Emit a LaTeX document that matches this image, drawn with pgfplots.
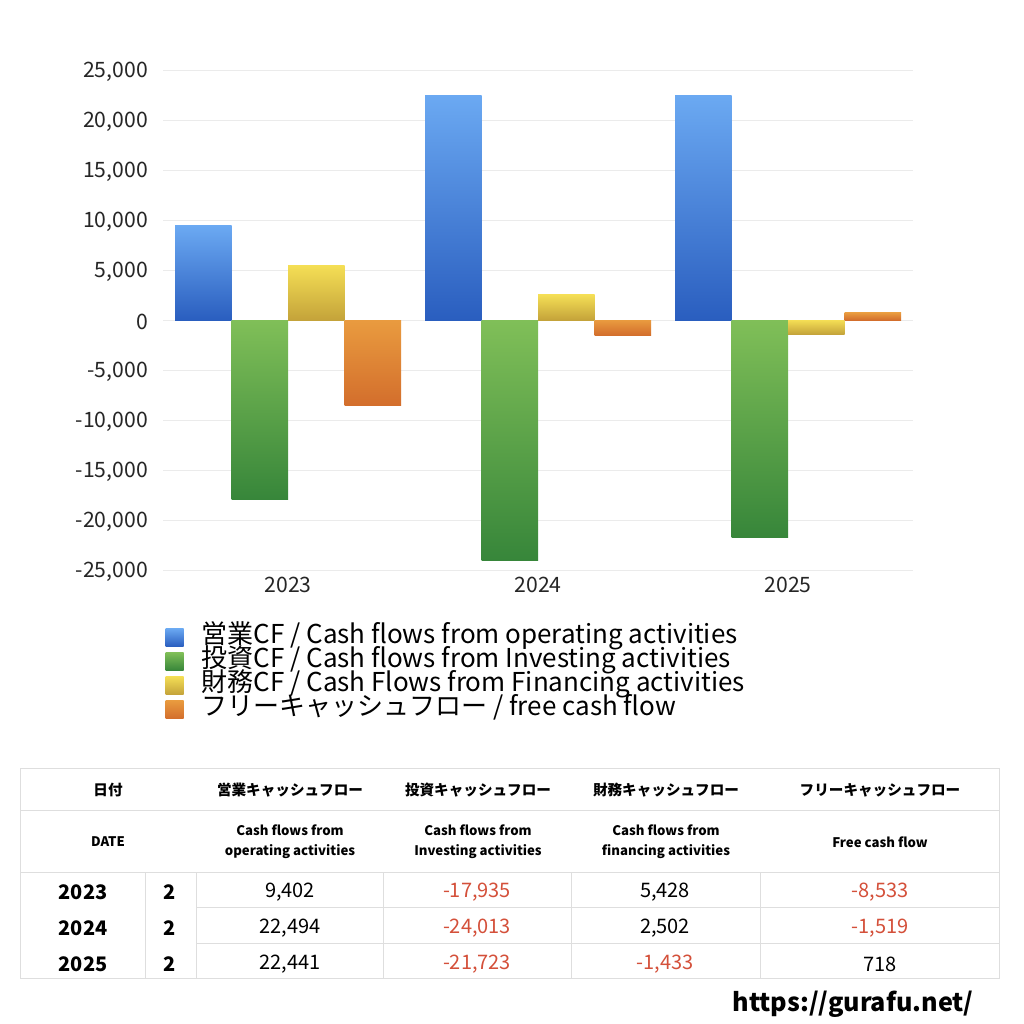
\documentclass[border=0pt]{standalone}
\usepackage{fontspec}
\setmainfont{Noto Sans CJK JP}
\usepackage{pgfplots}
\usepackage{pgfplotstable}
\pgfplotsset{compat=1.18}

\definecolor{gridgray}{HTML}{EBEBEB}
\definecolor{tabgray}{HTML}{DEDEDE}
\definecolor{negred}{HTML}{D4503A}
\definecolor{optop}{HTML}{6BA9F2}\definecolor{opbot}{HTML}{2A5EBF}
\definecolor{invtop}{HTML}{80BF58}\definecolor{invbot}{HTML}{37863A}
\definecolor{fintop}{HTML}{F4DE55}\definecolor{finbot}{HTML}{C4A33A}
\definecolor{fcftop}{HTML}{E99B3F}\definecolor{fcfbot}{HTML}{D36E2C}

% x: 0=2023, 1=2024, 2=2025
\pgfplotstableread{
x op inv fin fcf
0 9402 -17935 5428 -8533
1 22494 -24013 2502 -1519
2 22441 -21723 -1433 718
}\cfdata

\pgfplotsset{
  opbar/.style={draw=none, top color=optop, bottom color=opbot, bar shift=-0.339},
  invbar/.style={draw=none, top color=invtop, bottom color=invbot, bar shift=-0.113},
  finbar/.style={draw=none, top color=fintop, bottom color=finbot, bar shift=0.113},
  fcfbar/.style={draw=none, top color=fcftop, bottom color=fcfbot, bar shift=0.339},
}
% one bar per plot, so that each bar gets its own gradient
\newcommand{\cfbar}[3]{\addplot[#1] table[x=x, y=#2, restrict x to domain=#3:#3] {\cfdata};}

\newcommand{\hdr}{\fontsize{7.3}{9}\selectfont\bfseries}
\newcommand{\sub}{\fontsize{6.6}{10}\selectfont\bfseries}
\newcommand{\val}{\fontsize{10}{12}\selectfont}

\begin{document}
\begin{tikzpicture}[x=0.5pt,y=-0.5pt]
\fill[white] (0,0) rectangle (1024,1024);
\coordinate (axsw) at (163,570);
\begin{axis}[
    at={(axsw)}, anchor=south west,
    scale only axis, width=375pt, height=250pt,
    xmin=-0.5, xmax=2.5,
    ymin=-25000, ymax=25000,
    ybar, bar width=0.226,
    axis line style={draw=none},
    major tick length=0pt,
    scaled y ticks=false,
    ymajorgrids, grid style={gridgray, line width=0.5pt},
    xtick={0,1,2}, xticklabels={2023,2024,2025},
    ytick={-25000,-20000,...,25000},
    yticklabels={{-25,000},{-20,000},{-15,000},{-10,000},{-5,000},0,{5,000},{10,000},{15,000},{20,000},{25,000}},
    ticklabel style={font=\fontsize{10.6}{12}\selectfont, text=black!85},
    yticklabel style={xshift=-4pt, yshift=-1pt},
    legend cell align=left,
    legend style={at={(0.003,-0.11)}, anchor=north west, draw=none, fill=none,
      inner sep=0pt, font=\fontsize{13}{15}\selectfont,
      nodes={inner sep=0pt, text height=9pt, text depth=3pt},
      /tikz/every odd column/.append style={column sep=9pt}},
    legend image code/.code={\path[#1,draw=none] (0pt,-4.5pt) rectangle (9pt,4.5pt);},
  ]
  \cfbar{opbar}{op}{0}
  \addlegendentry{営業CF / Cash flows from operating activities}
  \cfbar{invbar}{inv}{0}
  \addlegendentry{投資CF / Cash flows from Investing activities}
  \cfbar{finbar}{fin}{0}
  \addlegendentry{財務CF / Cash Flows from Financing activities}
  \cfbar{fcfbar}{fcf}{0}
  \addlegendentry{フリーキャッシュフロー / free cash flow}
  \cfbar{opbar,forget plot}{op}{1}
  \cfbar{opbar,forget plot}{op}{2}
  \cfbar{invbar,forget plot}{inv}{1}
  \cfbar{invbar,forget plot}{inv}{2}
  \cfbar{finbar,forget plot}{fin}{1}
  \cfbar{finbar,forget plot}{fin}{2}
  \cfbar{fcfbar,forget plot}{fcf}{1}
  \cfbar{fcfbar,forget plot}{fcf}{2}
\end{axis}

% table grid
\begin{scope}[tabgray, line width=0.5pt]
  \draw (20,768) rectangle (999,978);
  \draw (20,810) -- (999,810);
  \draw (20,872) -- (999,872);
  \draw (196,907) -- (999,907);
  \draw (196,943) -- (999,943);
  \foreach \xx in {145,196,383,571,760} \draw (\xx,872) -- (\xx,978);
\end{scope}

% header rows
\node[font=\hdr] at (108,790) {日付};
\node[font=\hdr] at (290,790) {営業キャッシュフロー};
\node[font=\hdr] at (478,790) {投資キャッシュフロー};
\node[font=\hdr] at (666,790) {財務キャッシュフロー};
\node[font=\hdr] at (880,790) {フリーキャッシュフロー};
\node[font=\sub] at (108,842) {DATE};
\node[font=\sub, align=center] at (290,842) {Cash flows from\\operating activities};
\node[font=\sub, align=center] at (478,842) {Cash flows from\\Investing activities};
\node[font=\sub, align=center] at (666,842) {Cash flows from\\financing activities};
\node[font=\sub] at (880,842) {Free cash flow};

% data rows
\begin{scope}[every node/.style={font=\val}]
  \node[font=\val\bfseries] at (83,892) {2023};
  \node[font=\val\bfseries] at (83,928) {2024};
  \node[font=\val\bfseries] at (83,964) {2025};
  \node[font=\val\bfseries] at (170,892) {2};
  \node[font=\val\bfseries] at (170,928) {2};
  \node[font=\val\bfseries] at (170,964) {2};
  \node at (290,892) {9,402};
  \node at (290,928) {22,494};
  \node at (290,964) {22,441};
  \node[text=negred] at (477,892) {-17,935};
  \node[text=negred] at (477,928) {-24,013};
  \node[text=negred] at (477,964) {-21,723};
  \node at (665,892) {5,428};
  \node at (665,928) {2,502};
  \node[text=negred] at (665,964) {-1,433};
  \node[text=negred] at (880,892) {-8,533};
  \node[text=negred] at (880,928) {-1,519};
  \node at (880,964) {718};
\end{scope}

\node[font=\fontsize{12.6}{14}\selectfont\bfseries] at (853,1004) {https://gurafu.net/};
\end{tikzpicture}
\end{document}
